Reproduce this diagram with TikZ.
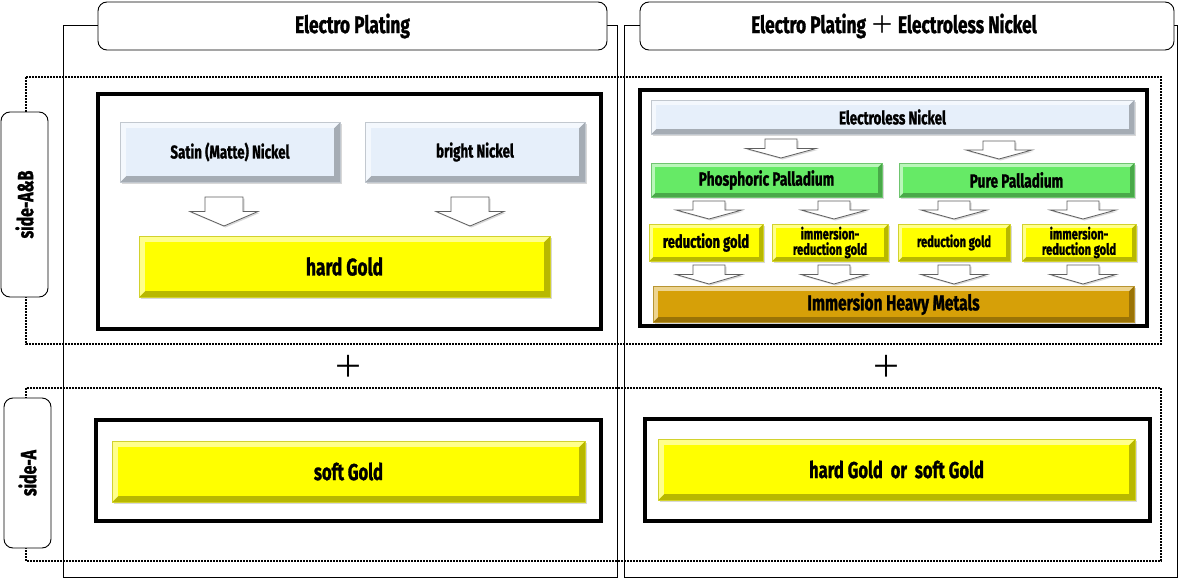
\documentclass[tikz,border=0pt]{standalone}
\usepackage{fontspec}
\newfontfamily\cond{Fira Sans}[FakeStretch=0.72, BoldFeatures={FakeBold=1.2}]
\newfontfamily\cjk{Noto Sans CJK SC}
\usetikzlibrary{shadows}
\definecolor{nick}{RGB}{230,239,250}
\definecolor{gold}{RGB}{255,255,0}
\definecolor{pall}{RGB}{102,234,102}
\definecolor{heavy}{RGB}{214,160,8}
\newcommand\fs[1]{\fontsize{#1}{#1}\selectfont}
\newcommand\blkarrow[5]{%
  \draw[barrow] ({#1-#3},#2) -- ({#1+#3},#2) -- ({#1+#3},{#2+#5/2}) -- ({#1+#4},{#2+#5/2})
   -- (#1,{#2+#5}) -- ({#1-#4},{#2+#5/2}) -- ({#1-#3},{#2+#5/2}) -- cycle;}
\tikzset{
  colline/.style={draw=black, line width=0.9pt},
  titlebox/.style={draw=black, line width=0.9pt, fill=white, rounded corners=9pt,
    font=\cond\bfseries\fs{24}, inner sep=0pt},
  sidebox/.style={draw=black, line width=0.9pt, fill=white, rounded corners=9pt,
    font=\cond\bfseries\fs{22}, inner sep=0pt},
  dots/.style={draw=black, line width=1.8pt, dash pattern=on 1.6pt off 1.4pt},
  panel/.style={draw=black, line width=3.2pt, fill=white, inner sep=0pt},
  barrow/.style={draw=gray!75!black, fill=white, line width=0.8pt,
    drop shadow={shadow xshift=1.5pt, shadow yshift=-1.5pt, opacity=.3}},
  bevel/.style 2 args={fill=#1, draw=#1!65!gray, line width=.6pt, inner sep=0pt,
    align=center,
    drop shadow={shadow xshift=1.5pt, shadow yshift=-1.5pt, opacity=.3},
    path picture={
      \fill[#1!72!black] (path picture bounding box.south west) -- (path picture bounding box.south east)
        -- (path picture bounding box.north east) -- ([shift={(-#2,-#2)}]path picture bounding box.north east)
        -- ([shift={(-#2,#2)}]path picture bounding box.south east) -- ([shift={(#2,#2)}]path picture bounding box.south west) -- cycle;
      \fill[#1!45!white] (path picture bounding box.south west) -- (path picture bounding box.north west)
        -- (path picture bounding box.north east) -- ([shift={(-#2,-#2)}]path picture bounding box.north east)
        -- ([shift={(#2,-#2)}]path picture bounding box.north west) -- ([shift={(#2,#2)}]path picture bounding box.south west) -- cycle;
      \fill[#1] ([shift={(#2,-#2)}]path picture bounding box.north west) rectangle ([shift={(-#2,#2)}]path picture bounding box.south east);
    }},
}
\begin{document}
\begin{tikzpicture}[x=1pt,y=-1pt]
\useasboundingbox[fill=white] (0,0) rectangle (1178,578);
% column frames
\draw[colline] (63,25) rectangle (617,577);
\draw[colline] (624,25) rectangle (1177,577);
% dotted bands
\draw[dots] (26,77) rectangle (1161,344);
\draw[dots] (26,388) rectangle (1161,561);
% titles
\node[titlebox, minimum width=509, minimum height=48] (t1) at (352.5,26) {Electro Plating};
\node[titlebox, minimum width=534, minimum height=48] (t2) at (907,26)
  {Electro Plating\,{\cjk\mdseries ＋}\,Electroless Nickel\kern26pt};
% side labels
\node[sidebox, minimum width=47, minimum height=185] (sab) at (24.5,204.5) {\rotatebox{90}{side-A\&B}};
\node[sidebox, minimum width=47, minimum height=150] (sa) at (27.5,473) {\rotatebox{90}{side-A}};
% panels
\node[panel, minimum width=503, minimum height=235] (p1) at (349.5,211.5) {};
\node[panel, minimum width=507, minimum height=236] (p2) at (893.5,208) {};
\node[panel, minimum width=505, minimum height=101] (p3) at (348.5,470.5) {};
\node[panel, minimum width=505, minimum height=102] (p4) at (897.5,470) {};
% left top panel
\node[bevel={nick}{6pt}, minimum width=220, minimum height=60, font=\cond\bfseries\fs{18.5}] (sat) at (230,152) {Satin (Matte) Nickel};
\node[bevel={nick}{6pt}, minimum width=220, minimum height=60, font=\cond\bfseries\fs{18.5}] (bri) at (475,152) {bright Nickel};
\node[bevel={gold}{6pt}, minimum width=411, minimum height=61, font=\cond\bfseries\fs{24}] (hg) at (344.5,266.5) {hard Gold};
\blkarrow{224}{197}{19}{34}{29}
\blkarrow{470}{197}{19}{34}{29}
% right top panel
\node[bevel={nick}{5pt}, minimum width=483, minimum height=34, font=\cond\bfseries\fs{18.5}] (en) at (892.5,117) {Electroless Nickel};
\node[bevel={pall}{4pt}, minimum width=231, minimum height=34, font=\cond\bfseries\fs{19}] (pp) at (766.5,180) {Phosphoric Palladium};
\node[bevel={pall}{4pt}, minimum width=235, minimum height=34, font=\cond\bfseries\fs{19}] (pu) at (1016.5,180) {Pure Palladium};
\blkarrow{781}{139}{16}{35}{19}
\blkarrow{999}{141}{16}{33}{18}
\node[bevel={gold}{4pt}, minimum width=114, minimum height=37, font=\cond\bfseries\fs{18}] (r1) at (706,242.5) {reduction gold};
\node[bevel={gold}{4pt}, minimum width=116, minimum height=37, font=\cond\bfseries\fs{15.5}] (i1) at (830,242.5) {immersion-\\reduction gold};
\node[bevel={gold}{4pt}, minimum width=112, minimum height=37, font=\cond\bfseries\fs{15.5}] (r2) at (954,242.5) {reduction gold};
\node[bevel={gold}{4pt}, minimum width=114, minimum height=37, font=\cond\bfseries\fs{15.5}] (i2) at (1079,242.5) {immersion-\\reduction gold};
\foreach \cx in {709,834,954,1083} {
  \blkarrow{\cx}{201}{16}{33}{18}
  \blkarrow{\cx}{265}{16}{33}{19}
}
\node[bevel={heavy}{5pt}, minimum width=481, minimum height=36, font=\cond\bfseries\fs{21.5}] (ihm) at (893.5,304) {Immersion Heavy Metals};
% bottom panels
\node[bevel={gold}{6pt}, minimum width=473, minimum height=61, font=\cond\bfseries\fs{23}] (sg) at (348.5,471.5) {soft Gold};
\node[bevel={gold}{6pt}, minimum width=477, minimum height=61, font=\cond\bfseries\fs{23}] (hs) at (896.5,469.5) {hard Gold\ \ or\ \ soft Gold};
% plus signs
\node[font=\cjk\fs{30}, inner sep=0pt] (plus1) at (348,366) {＋};
\node[font=\cjk\fs{30}, inner sep=0pt] (plus2) at (886,366) {＋};
\end{tikzpicture}
\end{document}
